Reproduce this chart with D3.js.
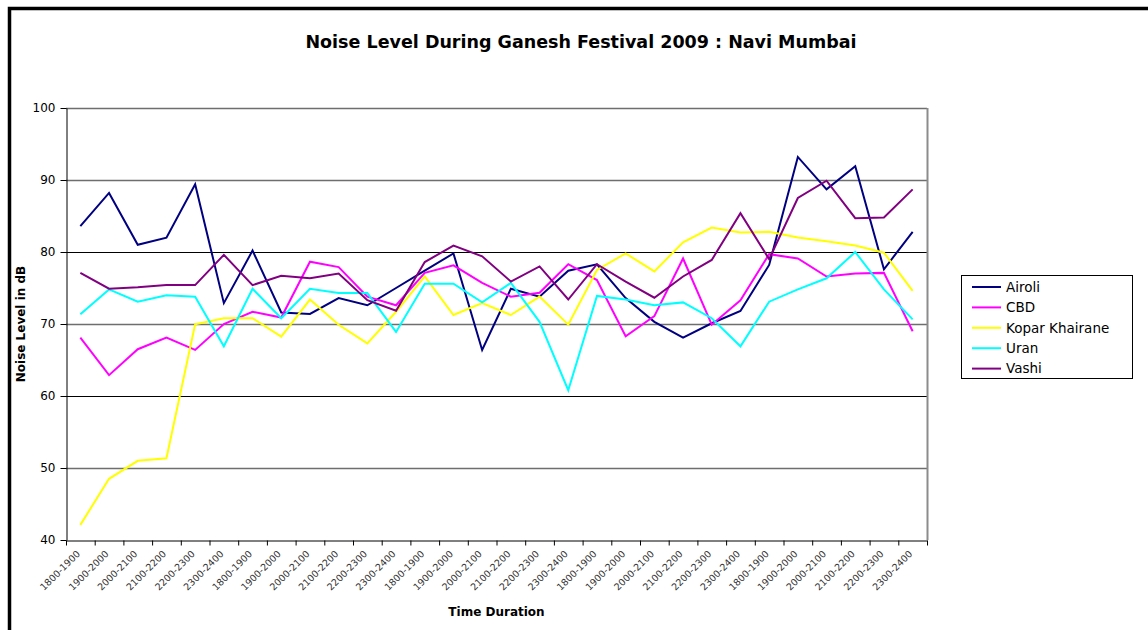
<!DOCTYPE html>
<html>
<head>
<meta charset="utf-8">
<script src="https://cdn.jsdelivr.net/npm/d3@7"></script>
<style>
  body { margin: 0; background: #fff; }
  svg { display: block; }
</style>
</head>
<body>
<svg id="chart" width="1148" height="630"></svg>
<script>
const periods = ["1800-1900", "1900-2000", "2000-2100", "2100-2200", "2200-2300", "2300-2400"];
const tickLabels = [].concat(periods, periods, periods, periods, periods);

const seriesNames = ["Airoli", "CBD", "Kopar Khairane", "Uran", "Vashi"];
const seriesColors = ["#000080", "#FF00FF", "#FFFF00", "#00FFFF", "#800080"];

const airoli = [83.6, 88.2, 81.0, 82.0, 89.4, 72.9, 80.2, 71.6, 71.4, 73.6, 72.6, 75.0, 77.4, 79.8, 66.4, 74.9, 73.8, 77.4, 78.3, 73.6, 70.3, 68.1, 70.1, 71.8, 78.2, 93.2, 88.7, 91.9, 77.6, 82.8];
const cbd = [68.1, 62.9, 66.5, 68.1, 66.4, 70.0, 71.7, 70.9, 78.65, 77.9, 73.8, 72.6, 77.1, 78.15, 75.7, 73.8, 74.35, 78.3, 76.1, 68.3, 71.1, 79.1, 69.9, 73.3, 79.7, 79.1, 76.6, 77.0, 77.1, 69.0];
const kopar = [42.1, 48.5, 51.0, 51.35, 69.95, 70.8, 70.8, 68.25, 73.4, 69.9, 67.3, 71.7, 76.6, 71.25, 72.9, 71.25, 73.8, 69.9, 77.5, 79.8, 77.3, 81.35, 83.4, 82.7, 82.8, 82.0, 81.5, 80.9, 79.9, 74.6];
const uran = [71.35, 74.8, 73.1, 74.0, 73.8, 66.9, 74.9, 70.8, 74.9, 74.3, 74.3, 68.9, 75.6, 75.6, 73.0, 75.7, 70.3, 60.8, 73.9, 73.4, 72.6, 73.0, 70.8, 66.9, 73.1, 74.8, 76.35, 80.0, 74.8, 70.65];
const vashi = [77.1, 74.9, 75.1, 75.4, 75.4, 79.6, 75.4, 76.7, 76.35, 77.0, 73.3, 71.85, 78.6, 80.9, 79.4, 75.9, 78.0, 73.4, 78.3, 75.9, 73.65, 76.6, 78.9, 85.4, 79.0, 87.5, 89.9, 84.7, 84.8, 88.7];
const seriesValues = [airoli, cbd, kopar, uran, vashi];

const yTicks = [40, 50, 60, 70, 80, 90, 100];

const svg = d3.select("#chart");
const plot = { left: 66, right: 927, top: 108, bottom: 540 };

// outer chart frame (cropped on right/bottom)
svg.append("path")
  .attr("d", "M9.5,640 L9.5,8.5 L1160,8.5")
  .attr("fill", "none").attr("stroke", "#000").attr("stroke-width", 3.5);

const idx = d3.range(tickLabels.length);
const x = d3.scaleBand().domain(idx).range([plot.left, plot.right]).padding(0);
const xEdge = d3.scaleLinear().domain([0, tickLabels.length]).range([plot.left, plot.right]);
const y = d3.scaleLinear().domain([40, 100]).range([plot.bottom, plot.top]);

// gridlines
svg.append("g").selectAll("line").data(yTicks.filter(d => d > 40)).join("line")
  .attr("x1", plot.left).attr("x2", plot.right)
  .attr("y1", d => Math.round(y(d)) + 0.5).attr("y2", d => Math.round(y(d)) + 0.5)
  .attr("stroke", d => (d === 80 || d === 60) ? "#000" : "#6e6e6e")
  .attr("stroke-width", d => (d === 80 || d === 60) ? 1 : 1.6);

// plot area right border
svg.append("line")
  .attr("x1", plot.right + 0.5).attr("x2", plot.right + 0.5)
  .attr("y1", plot.top).attr("y2", plot.bottom)
  .attr("stroke", "#8c8c8c").attr("stroke-width", 2);

// y axis
const yAxis = svg.append("g")
  .attr("transform", `translate(${plot.left + 0.5},0)`)
  .call(d3.axisLeft(y).tickValues(yTicks).tickSize(6).tickSizeOuter(0).tickPadding(5));
yAxis.select(".domain").attr("stroke", "#000");
yAxis.selectAll(".tick line").attr("stroke", "#000");
yAxis.selectAll("text").attr("font-family", "DejaVu Sans").attr("font-size", 12).attr("fill", "#000");

// x axis: boundary ticks
const xAxis = svg.append("g")
  .attr("transform", `translate(0,${plot.bottom + 0.5})`)
  .call(d3.axisBottom(xEdge).tickValues(d3.range(tickLabels.length + 1)).tickFormat("").tickSize(5).tickSizeOuter(0));
xAxis.select(".domain").attr("stroke", "#000");
xAxis.selectAll(".tick line").attr("stroke", "#000");

// x axis labels
const xLab = svg.append("g")
  .attr("transform", `translate(0,${plot.bottom})`)
  .call(d3.axisBottom(x).tickFormat(i => tickLabels[i]).tickSize(0).tickPadding(0));
xLab.select(".domain").remove();
xLab.selectAll("text")
  .attr("font-family", "DejaVu Sans").attr("font-size", 9.5).attr("fill", "#333")
  .attr("text-anchor", "end")
  .attr("transform", "translate(-2,12) rotate(-45)")
  .attr("dy", "0.35em").attr("y", 0).attr("x", 0);

// lines
const line = d3.line()
  .x((d, i) => x(i) + x.bandwidth() / 2)
  .y(d => y(d));
svg.append("g").selectAll("path").data(seriesValues).join("path")
  .attr("d", d => line(d))
  .attr("fill", "none")
  .attr("stroke", (d, i) => seriesColors[i])
  .attr("stroke-width", 2)
  .attr("stroke-linejoin", "miter");

// titles
svg.append("text")
  .attr("x", 581).attr("y", 48).attr("text-anchor", "middle")
  .attr("font-family", "DejaVu Sans").attr("font-weight", "bold").attr("font-size", 17.5)
  .text("Noise Level During Ganesh Festival 2009 : Navi Mumbai");
svg.append("text")
  .attr("x", (plot.left + plot.right) / 2).attr("y", 616).attr("text-anchor", "middle")
  .attr("font-family", "DejaVu Sans").attr("font-weight", "bold").attr("font-size", 12)
  .text("Time Duration");
svg.append("text")
  .attr("transform", `translate(25,${(plot.top + plot.bottom) / 2}) rotate(-90)`)
  .attr("text-anchor", "middle")
  .attr("font-family", "DejaVu Sans").attr("font-weight", "bold").attr("font-size", 12)
  .text("Noise Level in dB");

// legend
const lg = svg.append("g");
lg.append("rect").attr("x", 961.5).attr("y", 275.5).attr("width", 171).attr("height", 103)
  .attr("fill", "#fff").attr("stroke", "#000").attr("stroke-width", 1);
const items = lg.selectAll("g.item").data(seriesNames).join("g")
  .attr("class", "item")
  .attr("transform", (d, i) => `translate(0,${287 + i * 20.4})`);
items.append("line").attr("x1", 972).attr("x2", 1001).attr("y1", 0).attr("y2", 0)
  .attr("stroke", (d, i) => seriesColors[i]).attr("stroke-width", 2);
items.append("text").attr("x", 1006).attr("y", 0).attr("dy", "0.36em")
  .attr("font-family", "DejaVu Sans").attr("font-size", 13.5).attr("fill", "#000")
  .text(d => d);
</script>
</body>
</html>
